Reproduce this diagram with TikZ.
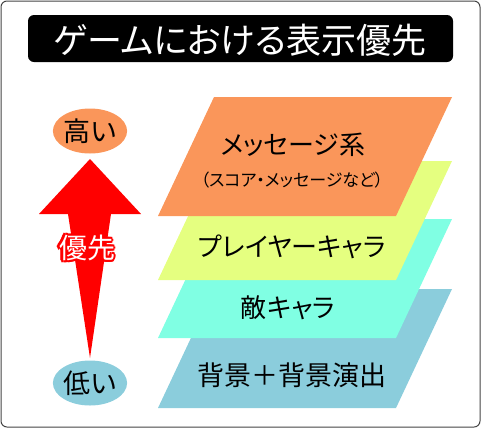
\documentclass[tikz,border=0pt]{standalone}
\usepackage{fontspec}
\setmainfont[RawFeature=+palt]{Noto Sans CJK JP}
\usepackage{xcolor}
\usepackage{tikz}
\usetikzlibrary{calc,positioning,shapes.geometric}
\definecolor{layorange}{HTML}{FA965A}
\definecolor{layyellow}{HTML}{E5FF80}
\definecolor{laycyan}{HTML}{80FFE3}
\definecolor{layblue}{HTML}{8BCDDC}
\definecolor{framegray}{HTML}{444444}
\tikzset{
  lbl/.style={inner sep=0pt,font=\fontsize{26}{28}\selectfont},
  sublbl/.style={inner sep=0pt,font=\fontsize{17}{20}\selectfont},
  tag/.style={ellipse,inner sep=0pt,minimum width=67pt,minimum height=45pt,font=\fontsize{27}{30}\selectfont},
  pri/.style={inner sep=0pt,font=\fontsize{28}{30}\selectfont}
}
\newcommand\layerat[2]{\fill[#2] (214,#1) -- (452,#1) -- ++(-56,119) -- ++(-238,0) -- cycle;}

\begin{document}
\begin{tikzpicture}[x=1pt,y=-1pt]
\useasboundingbox (0,0) rectangle (481,429);
\draw[framegray,line width=1pt,rounded corners=6pt] (1,1) rectangle (480,427);
\fill[black,rounded corners=6pt] (28,15) rectangle (453,62);
\node[inner sep=0pt,text=white,font=\fontsize{35}{38}\selectfont] (title) at (240,40) {ゲームにおける表示優先};
% layers, back to front
\layerat{289}{layblue}
\layerat{219}{laycyan}
\layerat{161}{layyellow}
\layerat{97}{layorange}
\node[lbl] (msg) at (293,145) {メッセージ系};
\node[sublbl] (msgsub) at (292,180) {（スコア・メッセージなど）};
\node[lbl] (player) at (292,247) {プレイヤーキャラ};
\node[lbl] (enemy) at (288,308) {敵キャラ};
\node[lbl,font=\fontsize{27}{30}\selectfont] (bg) at (292,375) {背景＋背景演出};
% priority arrow
\node[tag,fill=layorange] (high) at (90,131) {高い};
\node[tag,fill=layblue] (low) at (90,383) {低い};
\fill[red] (90,159) -- (141,214) -- (111,214) -- (90,358) -- (68,214) -- (39,214) -- cycle;
\foreach \a in {0,30,...,330}{\node[pri,text=red] at ($(87,248)+(\a:2.2)$) {優先};}
\node[pri,text=white] (prio) at (87,248) {優先};
\end{tikzpicture}
\end{document}
